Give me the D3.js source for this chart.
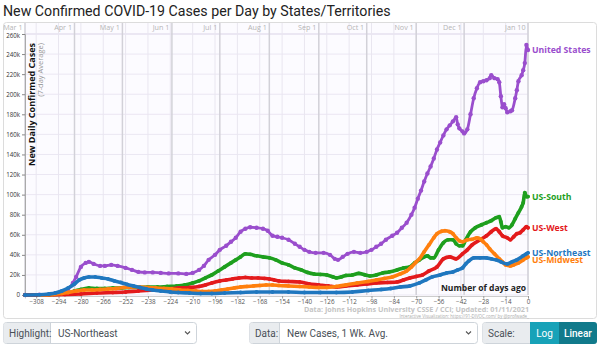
<!DOCTYPE html>
<html>
<head>
<meta charset="utf-8">
<script src="https://cdn.jsdelivr.net/npm/d3@7/dist/d3.min.js"></script>
<style>
  html, body { margin: 0; padding: 0; background: #fff; }
  svg { display: block; }
</style>
</head>
<body>
<svg id="chart" width="600" height="345"></svg>
<script>
// ---------------- DATA (values in thousands of cases, x = days before 01/10/2021) ----------------
const seriesNames = ["United States", "US-South", "US-West", "US-Midwest", "US-Northeast"];
const seriesColors = ["#9a4ecd", "#1e9f1e", "#e31a1c", "#ff7f0e", "#1f77bf"];

const usValues = [[-315,0],[-306,0.2],[-300,0.5],[-296,1.5],[-292,3],[-288,6],[-285,12],[-283,18],[-280,28],[-277,32],[-275,33],[-272,31],[-268,29],[-265,29],[-261,30],[-257,29],[-252,27],[-248,25],[-244,23],[-240,22.5],[-235,22.5],[-230,22],[-225,21.5],[-219,21.5],[-214,21],[-210,22],[-206,25],[-203,29],[-200,35],[-196,40],[-193,45],[-189,49],[-186,53],[-183,57],[-180,63],[-177,66],[-174,67.5],[-170,67],[-166,66],[-163,64],[-160,59],[-157,58],[-154,57],[-150,55],[-146,51],[-143,48],[-140,45],[-137,43],[-133,42],[-128,42],[-124,40],[-121,36],[-119,35],[-116,38],[-113,41],[-109,43],[-105,42],[-101,43],[-98,45],[-95,48],[-92,51],[-89,55],[-85,59],[-82,62],[-79,67],[-76,72],[-73,80],[-71,87],[-69,96],[-67,104],[-65,113],[-63,121],[-61,128],[-59,136],[-57,145],[-55,152],[-53,159],[-51,165],[-49,169],[-47,173],[-45,177],[-44,170],[-43,166],[-41,163],[-40,161],[-38,165],[-36,180],[-34,196],[-32,206],[-30,212],[-28,213],[-26,214],[-24,216],[-23,219],[-21,216],[-19,215],[-18,212],[-17,198],[-16,187],[-15,190],[-14,186],[-13,182],[-11,183],[-10,184],[-8,196],[-7,204],[-6,213],[-4,219],[-3,224],[-2,231],[-1,249],[0,244]];

const southValues = [[-315,0],[-300,0.3],[-292,1],[-288,2],[-284,4],[-280,5.5],[-275,7],[-270,6.5],[-265,6.5],[-260,7],[-255,7],[-250,7.5],[-244,7.5],[-238,8],[-232,8],[-226,8.5],[-220,9],[-215,10],[-210,12],[-206,14],[-202,17],[-198,20],[-194,24],[-190,28],[-186,32],[-183,35],[-180,38],[-177,41],[-174,40.5],[-170,39],[-166,38],[-162,37],[-158,35],[-154,32],[-150,30],[-146,27],[-142,25],[-138,22.5],[-134,21],[-130,20.5],[-126,20],[-122,18],[-120,17],[-117,18],[-114,19.5],[-110,20],[-106,21.5],[-102,20],[-99,19],[-95,20],[-91,22],[-87,23],[-82,25],[-78,27],[-74,28],[-71,32],[-68,35],[-65,38],[-63,39],[-61,37],[-59,37],[-56,45],[-53,52],[-50,55],[-47,55],[-45,51],[-43,49],[-41,49],[-39,55],[-36,63],[-33,67],[-29,70],[-26,72],[-23,74],[-20,77],[-18,78],[-17,73],[-16,67],[-14,68],[-12,67],[-10,70],[-8,76],[-6,82],[-4,88],[-3,92],[-2,102],[-1,98],[0,98]];

const westValues = [[-315,0],[-290,0.5],[-280,1],[-270,2],[-260,2.5],[-252,3],[-244,4],[-235,5],[-226,6],[-219,7],[-212,7.5],[-206,8.5],[-202,10],[-198,12],[-193,14],[-189,15],[-185,16],[-181,17],[-177,17.5],[-173,17],[-169,17],[-165,16.5],[-162,16],[-159,15],[-156,14],[-150,13.5],[-143,13],[-137,11],[-131,10],[-125,9],[-120,8],[-114,9],[-107,10],[-101,11],[-95,12],[-88,12.5],[-82,13],[-78,15],[-74,17],[-70,18.5],[-66,20],[-62,24],[-57,28],[-53,36],[-49,38],[-45,36],[-41,41],[-38,45],[-35,50],[-30,55],[-26,59],[-23,63],[-20,66],[-18,63],[-16,59],[-13,57],[-11,55],[-9,58],[-7,61],[-5,62],[-3,65],[-1,68],[0,67]];

const midwestValues = [[-306,0],[-298,0.5],[-292,1.5],[-288,2.5],[-283,4],[-278,5],[-273,5],[-268,5.5],[-263,6],[-258,6.5],[-253,7.5],[-248,8],[-243,8],[-238,7.5],[-233,7],[-228,6.5],[-223,6],[-218,5],[-213,4.5],[-208,4],[-204,3.5],[-200,3.5],[-196,4],[-192,5],[-188,6],[-184,7],[-180,8],[-176,8.5],[-172,9],[-168,9.5],[-164,10],[-160,10],[-156,9.5],[-150,9],[-143,8.5],[-137,8],[-131,7.5],[-126,7.5],[-120,8.5],[-114,10],[-107,12],[-100,13.5],[-95,15],[-90,16.5],[-85,18],[-80,21],[-76,24],[-73,28],[-70,33],[-68,36],[-65,43],[-62,50],[-59,57],[-57,61],[-54,63.5],[-52,64],[-49,63],[-47,61],[-45,57],[-43,54],[-41,53],[-38,55],[-35,55.5],[-32,57],[-30,56],[-28,53],[-26,50],[-24,46],[-21,41],[-18,36],[-16,33],[-14,30],[-11,29],[-9,30],[-6,32],[-3,35],[-1,37],[0,38]];

const northeastValues = [[-315,0],[-306,0.2],[-300,1],[-296,2],[-292,4],[-288,7],[-284,11],[-281,15],[-278,17],[-275,18],[-271,18],[-267,17],[-263,16],[-259,14],[-255,12.5],[-251,10.5],[-247,9],[-243,7.5],[-239,6],[-235,5],[-230,4],[-224,3],[-219,2.5],[-212,2],[-205,1.5],[-198,1.5],[-190,2],[-180,2.5],[-170,3],[-160,3],[-150,3],[-140,2.5],[-130,2.5],[-120,2.5],[-110,3],[-100,4.5],[-92,5.5],[-86,6.5],[-80,8],[-74,9],[-68,12],[-64,15],[-60,18],[-55,20],[-51,22],[-47,23],[-44,25],[-41,27],[-39,31],[-37,34],[-34,37],[-30,37],[-26,37],[-23,36],[-20,35],[-17,33],[-13,31],[-10,33],[-7,35],[-3,39],[-1,41],[0,42]];

const seriesValues = [usValues, southValues, westValues, midwestValues, northeastValues];

const yTicks = [0,20,40,60,80,100,120,140,160,180,200,220,240,260];
const xTicks = [-308,-294,-280,-266,-252,-238,-224,-210,-196,-182,-168,-154,-140,-126,-112,-98,-84,-70,-56,-42,-28,-14,0];
const monthLabels = ["Mar 1","Apr 1","May 1","Jun 1","Jul 1","Aug 1","Sep 1","Oct 1","Nov 1","Dec 1","Jan 10"];
const monthDates = ["2020-03-01","2020-04-01","2020-05-01","2020-06-01","2020-07-01","2020-08-01","2020-09-01","2020-10-01","2020-11-01","2020-12-01","2021-01-10"];
const lastDate = "2021-01-10";

// ---------------- DRAWING ----------------
const svg = d3.select("#chart");
const FONT = "'Open Sans', 'DejaVu Sans', sans-serif";

const plot = { left: 25, right: 528, top: 34, bottom: 295 };
const x = d3.scaleLinear().domain([-315, 0]).range([plot.left, plot.right]);
const y = d3.scaleLinear().domain([0, 260]).range([plot.bottom, plot.top]);

// title
svg.append("text").attr("x", 3).attr("y", 15.5)
  .style("font-family", "Roboto, sans-serif").style("font-size", "14.2px").attr("fill", "#222")
  .text("New Confirmed COVID-19 Cases per Day by States/Territories");

// frame
svg.append("rect").attr("x", 3.5).attr("y", 22.5).attr("width", 593).attr("height", 296)
  .attr("rx", 3).attr("fill", "#fff").attr("stroke", "#dcdcdc");

// plot background
svg.append("rect").attr("x", plot.left).attr("y", 23).attr("width", plot.right - plot.left)
  .attr("height", plot.bottom - 23).attr("fill", "#fcfbff");

// horizontal gridlines
svg.append("g").selectAll("line").data(yTicks).join("line")
  .attr("x1", plot.left).attr("x2", plot.right)
  .attr("y1", d => y(d)).attr("y2", d => y(d))
  .attr("stroke", "#ebe7f3").attr("stroke-width", d => d === 260 ? 2 : 1);

// vertical gridlines (14-day)
svg.append("g").selectAll("line").data(xTicks).join("line")
  .attr("x1", d => x(d)).attr("x2", d => x(d))
  .attr("y1", 23).attr("y2", plot.bottom)
  .attr("stroke", "#e9e6f0").attr("stroke-width", 1);

// month lines
const parse = d3.timeParse("%Y-%m-%d");
const endD = parse(lastDate);
const months = monthLabels.map((m, i) => ({ label: m, day: -d3.timeDay.count(parse(monthDates[i]), endD) }));
const mg = svg.append("g");
mg.selectAll("line").data(months).join("line")
  .attr("x1", d => x(d.day)).attr("x2", d => x(d.day))
  .attr("y1", 23).attr("y2", plot.bottom)
  .attr("stroke", "#d2d1d8").attr("stroke-width", 1.5);
mg.selectAll("text").data(months).join("text")
  .attr("x", d => x(d.day) - 2.5).attr("y", 29.5)
  .attr("text-anchor", "end")
  .style("font-family", FONT).style("font-size", "7.2px").attr("fill", "#b5b5b5")
  .text(d => d.label);

// y axis
const yAxis = svg.append("g").attr("transform", `translate(${plot.left},0)`)
  .call(d3.axisLeft(y).tickValues(yTicks).tickSize(3).tickPadding(2)
    .tickFormat(d => d === 0 ? "0" : d + "k"));
yAxis.select(".domain").attr("stroke", "#aaa");
yAxis.selectAll(".tick line").attr("stroke", "#888");
yAxis.selectAll("text").style("font-family", FONT).style("font-size", "6.2px").attr("fill", "#333");
yAxis.selectAll(".tick").filter(d => d === 260).select("text").attr("dy", "0.55em");

// x axis
const xAxis = svg.append("g").attr("transform", `translate(0,${plot.bottom + 1})`)
  .call(d3.axisBottom(x).tickValues(xTicks).tickSize(2.5).tickPadding(1));
xAxis.select(".domain").attr("stroke", "#ccc");
xAxis.selectAll(".tick line").attr("stroke", "#999");
xAxis.selectAll("text").style("font-family", FONT).style("font-size", "6.3px").attr("fill", "#555");

// axis titles
svg.append("text").attr("transform", `translate(35,43) rotate(-90)`)
  .attr("text-anchor", "end")
  .style("font-family", FONT).style("font-size", "9px").style("font-weight", "bold").attr("fill", "#111")
  .text("New Daily Confirmed Cases");
svg.append("text").attr("transform", `translate(43,43) rotate(-90)`)
  .attr("text-anchor", "end")
  .style("font-family", FONT).style("font-size", "7.5px").attr("fill", "#999")
  .text("(7-day Average)");

svg.append("text").attr("x", 526).attr("y", 291).attr("text-anchor", "end")
  .style("font-family", FONT).style("font-size", "8.5px").style("font-weight", "bold").attr("fill", "#222")
  .text("Number of days ago");

// source
svg.append("text").attr("x", 529).attr("y", 312.3).attr("text-anchor", "end")
  .style("font-family", FONT).style("font-size", "7.2px").style("font-weight", "bold").attr("fill", "#c4c4c4")
  .text("Data: Johns Hopkins University CSSE / CCI; Updated: 01/11/2021");
svg.append("text").attr("x", 529).attr("y", 317.6).attr("text-anchor", "end")
  .style("font-family", FONT).style("font-size", "4.4px").attr("fill", "#aaa")
  .text("Interactive Visualization: https://91-DIVOC.com/ by @profwade_");

// lines
const line = d3.line().x(d => x(d[0])).y(d => y(d[1])).curve(d3.curveMonotoneX);
const lg = svg.append("g");
seriesNames.forEach((name, i) => {
  const g = lg.append("g");
  g.append("path").datum(seriesValues[i]).attr("d", line)
    .attr("fill", "none").attr("stroke", seriesColors[i])
    .attr("stroke-width", i === 0 ? 2.8 : 3.6)
    .attr("stroke-linejoin", "round").attr("stroke-linecap", "round");
  g.selectAll("circle").data(seriesValues[i]).join("circle")
    .attr("cx", d => x(d[0])).attr("cy", d => y(d[1]))
    .attr("r", i === 0 ? 2.2 : 1.9).attr("fill", seriesColors[i]);
});

// end labels with simple collision avoidance
const labels = seriesNames.map((name, i) => {
  const vals = seriesValues[i];
  return { name, color: seriesColors[i], y: y(vals[vals.length - 1][1]) };
}).sort((a, b) => a.y - b.y);
for (let i = 1; i < labels.length; i++) {
  if (labels[i].y - labels[i - 1].y < 7) labels[i].y = labels[i - 1].y + 7;
}
svg.append("g").selectAll("text").data(labels).join("text")
  .attr("x", plot.right + 4).attr("y", d => d.y).attr("dy", "0.35em")
  .style("font-family", FONT).style("font-size", "8.7px").style("font-weight", "bold")
  .attr("fill", d => d.color).text(d => d.name);

// ---------------- CONTROLS ----------------
const ctrlFont = "Roboto, 'Open Sans', sans-serif";
function inputGroup(x0, x1, xl, label, value) {
  const g = svg.append("g");
  g.append("rect").attr("x", x0 + 0.5).attr("y", 322.5).attr("width", x1 - x0 - 1).attr("height", 21)
    .attr("rx", 3).attr("fill", "#fff").attr("stroke", "#ced4da");
  g.append("path").attr("d", `M${xl},323 H${x0 + 3} a2.5,2.5 0 0 0 -2.5,2.5 V340.5 a2.5,2.5 0 0 0 2.5,2.5 H${xl} Z`)
    .attr("fill", "#e9ecef");
  g.append("line").attr("x1", xl + 0.5).attr("x2", xl + 0.5).attr("y1", 322.5).attr("y2", 343.5).attr("stroke", "#ced4da");
  g.append("text").attr("x", x0 + 6).attr("y", 336.5)
    .style("font-family", ctrlFont).style("font-size", "10px").attr("fill", "#495057").text(label);
  if (value !== null) {
    g.append("text").attr("x", xl + 8).attr("y", 336.5)
      .style("font-family", ctrlFont).style("font-size", "10px").attr("fill", "#495057").text(value);
    g.append("path").attr("d", `M${x1 - 12},331.5 l2.5,2.5 l2.5,-2.5`)
      .attr("fill", "none").attr("stroke", "#555").attr("stroke-width", 1.1);
  }
  return g;
}
inputGroup(3, 197, 50, "Highlight:", "US-Northeast");
inputGroup(249, 478, 279, "Data:", "New Cases, 1 Wk. Avg.");
const sg = inputGroup(482, 597, 530, "Scale:", null);
sg.append("rect").attr("x", 530).attr("y", 322).attr("width", 29).attr("height", 22).attr("fill", "#17a2b8");
sg.append("path").attr("d", "M559,322 H594 a3,3 0 0 1 3,3 V341 a3,3 0 0 1 -3,3 H559 Z").attr("fill", "#117a8b");
sg.append("text").attr("x", 544.5).attr("y", 336.5).attr("text-anchor", "middle")
  .style("font-family", ctrlFont).style("font-size", "10px").attr("fill", "#fff").text("Log");
sg.append("text").attr("x", 578).attr("y", 336.5).attr("text-anchor", "middle")
  .style("font-family", ctrlFont).style("font-size", "10px").style("font-weight", "500").attr("fill", "#fff").text("Linear");
</script>
</body>
</html>
